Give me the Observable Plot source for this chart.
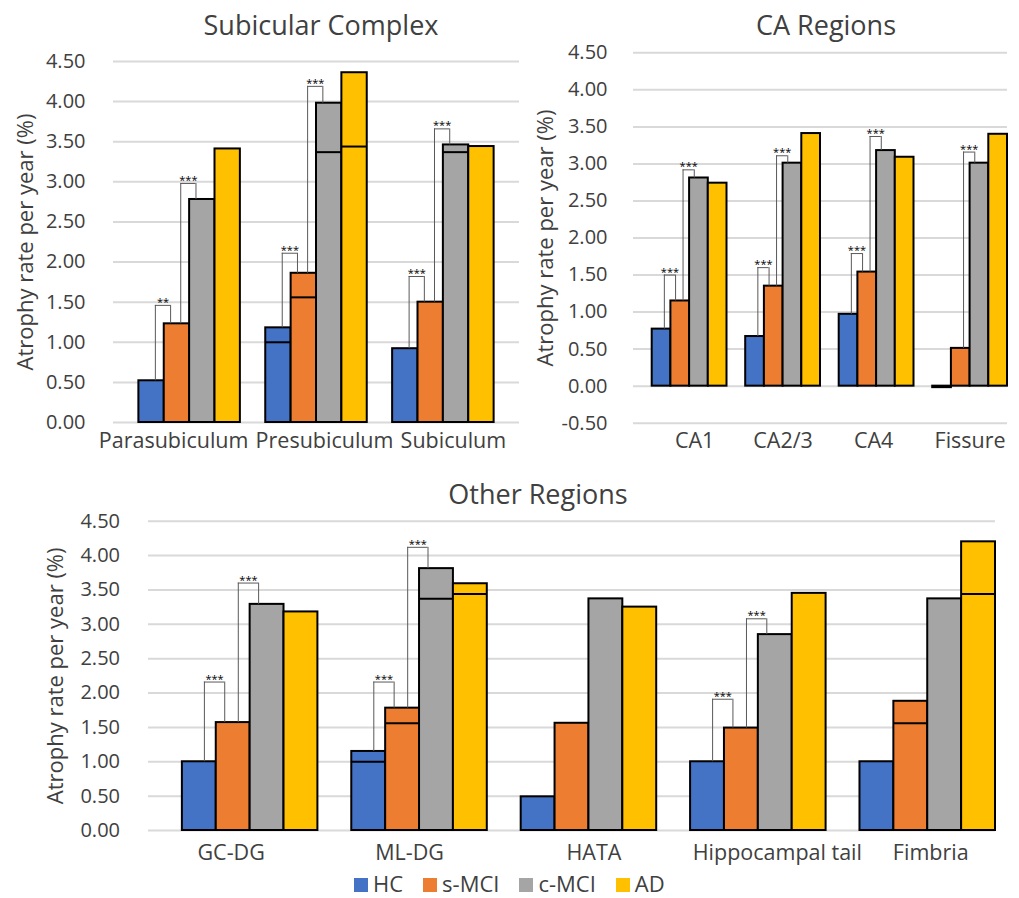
<!DOCTYPE html>
<html>
<head>
<meta charset="utf-8">
<script src="https://cdn.jsdelivr.net/npm/d3@7"></script>
<script src="https://cdn.jsdelivr.net/npm/@observablehq/plot@0.6"></script>
<style>
  body { margin: 0; background: #fff; font-family: "Open Sans", sans-serif; }
  #root { position: relative; width: 1019px; height: 898px; background: #fff; }
  .title { position: absolute; font-size: 27px; line-height: 27px; color: #404040; white-space: nowrap; transform: translateX(-50%); }
  .panel { position: absolute; }
  .legend { position: absolute; left: 354px; top: 874px; display: flex; gap: 20px; font-size: 22px; line-height: 18px; color: #404040; }
  .legend .item { display: flex; align-items: flex-start; }
  .legend .sw { width: 14px; height: 14px; margin-top: 4px; margin-right: 5px; }
</style>
</head>
<body>
<div id="root"></div>
<script>
// ---------- shared ----------
const groups = ["HC", "s-MCI", "c-MCI", "AD"];
const groupColors = ["#4472C4", "#ED7D31", "#A5A5A5", "#FFC000"];
const yTitle = "Atrophy rate per year (%)";

// ---------- Subicular Complex ----------
const subTitle = "Subicular Complex";
const subCategories = ["Parasubiculum", "Presubiculum", "Subiculum"];
const subHC   = [0.52, 1.18, 0.92];
const subSMCI = [1.23, 1.86, 1.50];
const subCMCI = [2.78, 3.98, 3.46];
const subAD   = [3.41, 4.36, 3.44];
const subInnerHC   = [null, 1.00, null];
const subInnerSMCI = [null, 1.56, null];
const subInnerCMCI = [null, 3.37, 3.37];
const subInnerAD   = [null, 3.44, null];
const subBrCat   = ["Parasubiculum", "Parasubiculum", "Presubiculum", "Presubiculum", "Subiculum", "Subiculum"];
const subBrFrom  = ["HC", "s-MCI", "HC", "s-MCI", "HC", "s-MCI"];
const subBrTop   = [1.46, 2.98, 2.11, 4.19, 1.82, 3.66];
const subBrLabel = ["**", "***", "***", "***", "***", "***"];
const subTicks = [0, 0.5, 1, 1.5, 2, 2.5, 3, 3.5, 4, 4.5];

// ---------- CA Regions ----------
const caTitle = "CA Regions";
const caCategories = ["CA1", "CA2/3", "CA4", "Fissure"];
const caHC   = [0.77, 0.67, 0.97, -0.02];
const caSMCI = [1.15, 1.35, 1.54, 0.51];
const caCMCI = [2.81, 3.01, 3.18, 3.01];
const caAD   = [2.74, 3.41, 3.09, 3.40];
const caInnerHC   = [null, null, null, null];
const caInnerSMCI = [null, null, null, null];
const caInnerCMCI = [null, null, null, null];
const caInnerAD   = [null, null, null, null];
const caBrCat   = ["CA1", "CA1", "CA2/3", "CA2/3", "CA4", "CA4", "Fissure"];
const caBrFrom  = ["HC", "s-MCI", "HC", "s-MCI", "HC", "s-MCI", "s-MCI"];
const caBrTop   = [1.50, 2.92, 1.60, 3.11, 1.79, 3.37, 3.16];
const caBrLabel = ["***", "***", "***", "***", "***", "***", "***"];
const caTicks = [-0.5, 0, 0.5, 1, 1.5, 2, 2.5, 3, 3.5, 4, 4.5];

// ---------- Other Regions ----------
const otherTitle = "Other Regions";
const otherCategories = ["GC-DG", "ML-DG", "HATA", "Hippocampal tail", "Fimbria"];
const otherHC   = [1.00, 1.15, 0.49, 1.00, 1.00];
const otherSMCI = [1.57, 1.78, 1.56, 1.49, 1.88];
const otherCMCI = [3.29, 3.81, 3.37, 2.85, 3.37];
const otherAD   = [3.18, 3.59, 3.25, 3.45, 4.20];
const otherInnerHC   = [null, 1.00, null, null, null];
const otherInnerSMCI = [null, 1.56, null, null, 1.56];
const otherInnerCMCI = [null, 3.37, null, null, null];
const otherInnerAD   = [null, 3.44, null, null, 3.44];
const otherBrCat   = ["GC-DG", "GC-DG", "ML-DG", "ML-DG", "Hippocampal tail", "Hippocampal tail"];
const otherBrFrom  = ["HC", "s-MCI", "HC", "s-MCI", "HC", "s-MCI"];
const otherBrTop   = [2.16, 3.60, 2.16, 4.12, 1.91, 3.08];
const otherBrLabel = ["***", "***", "***", "***", "***", "***"];
const otherTicks = [0, 0.5, 1, 1.5, 2, 2.5, 3, 3.5, 4, 4.5];

// ---------- builder ----------
function makePanel(cfg) {
  const {cats, values, inner, brCat, brFrom, brTop, brLabel, ticks, yDomain,
         width, height, mL, mR, mT, mB, trailingGap, tickPadding, titleDx, catDy, nudge} = cfg;
  const domain = [];
  cats.forEach((c, i) => { domain.push("gap" + i); groups.forEach(g => domain.push(c + "|" + g)); });
  if (trailingGap) domain.push("gapEnd");
  const bw = (width - mL - mR) / domain.length;
  const rows = cats.flatMap((c, i) => groups.map((g, j) => ({
    key: c + "|" + g, group: g, value: values[j][i], inner: inner[j][i]
  })));
  const val = new Map(rows.map(r => [r.key, r.value]));
  const nextGroup = g => groups[groups.indexOf(g) + 1];
  const br = brCat.map((c, i) => {
    const from = c + "|" + brFrom[i], to = c + "|" + nextGroup(brFrom[i]);
    return {from, to, fromVal: val.get(from), toVal: val.get(to), top: brTop[i], label: brLabel[i]};
  });
  const brStyle = {stroke: "#595959", strokeWidth: 1};
  return Plot.plot({
    width, height, marginLeft: mL, marginRight: mR, marginTop: mT, marginBottom: mB,
    style: {fontFamily: "'Open Sans', sans-serif", fontSize: "20px", color: "#404040", background: "transparent", overflow: "visible"},
    x: {type: "band", domain, paddingInner: 0, paddingOuter: 0, round: false, axis: null},
    y: {domain: yDomain, label: null},
    color: {domain: groups, range: groupColors},
    marks: [
      Plot.ruleY(ticks, {stroke: "#d9d9d9", strokeWidth: 2}),
      Plot.axisY(ticks, {tickFormat: d => d.toFixed(2), tickSize: 0, tickPadding: 0, dx: -tickPadding, fontSize: 20, fill: "#404040", label: null}),
      Plot.barY(rows, {x: "key", y: "value", fill: "group", stroke: "#000", strokeWidth: 2, inset: 0}),
      Plot.tickY(rows.filter(r => r.inner != null), {x: "key", y: "inner", stroke: "#000", strokeWidth: 2}),
      Plot.ruleX(br, {x: "from", y1: "fromVal", y2: "top", dx: 0.15 * bw, ...brStyle}),
      Plot.ruleX(br, {x: "to", y1: "toVal", y2: "top", dx: -0.25 * bw, ...brStyle}),
      Plot.ruleY(br, {x1: "from", x2: "to", y: "top", insetLeft: 0.65 * bw, insetRight: 0.75 * bw, ...brStyle}),
      Plot.text(br, {x: "from", y: "top", text: "label", dx: 0.45 * bw, dy: -3, fontSize: 11, lineAnchor: "middle", fill: "#000"}),
      Plot.text([yTitle], {frameAnchor: "left", textAnchor: "middle", lineAnchor: "middle", rotate: -90, dx: titleDx, fontSize: 22, fill: "#404040"}),
      ...cats.map((c, i) => Plot.text([c], {x: () => c + "|s-MCI", frameAnchor: "bottom", dx: bw / 2 + nudge[i], dy: catDy, fontSize: 21.5, lineAnchor: "middle", fill: "#404040"}))
    ]
  });
}

const root = document.getElementById("root");
function place(el, left, top) {
  el.classList.add("panel");
  el.style.left = left + "px";
  el.style.top = top + "px";
  root.appendChild(el);
}
function title(text, cx, top) {
  const d = document.createElement("div");
  d.className = "title";
  d.textContent = text;
  d.style.left = cx + "px";
  d.style.top = top + "px";
  root.appendChild(d);
}

place(makePanel({
  cats: subCategories, values: [subHC, subSMCI, subCMCI, subAD],
  inner: [subInnerHC, subInnerSMCI, subInnerCMCI, subInnerAD],
  brCat: subBrCat, brFrom: subBrFrom, brTop: subBrTop, brLabel: subBrLabel,
  ticks: subTicks, yDomain: [0, 4.5],
  width: 520, height: 460, mL: 113, mR: 1, mT: 61, mB: 38, trailingGap: true,
  tickPadding: 28, titleDx: -88, catDy: 19, nudge: [-16, 8, 10]
}), 0, 0);

place(makePanel({
  cats: caCategories, values: [caHC, caSMCI, caCMCI, caAD],
  inner: [caInnerHC, caInnerSMCI, caInnerCMCI, caInnerAD],
  brCat: caBrCat, brFrom: caBrFrom, brTop: caBrTop, brLabel: caBrLabel,
  ticks: caTicks, yDomain: [-0.5, 4.5],
  width: 509, height: 460, mL: 123, mR: 12, mT: 52.3, mB: 37.3, trailingGap: false,
  tickPadding: 26, titleDx: -88, catDy: 18, nudge: [5, 0, -3, 0]
}), 510, 0);

place(makePanel({
  cats: otherCategories, values: [otherHC, otherSMCI, otherCMCI, otherAD],
  inner: [otherInnerHC, otherInnerSMCI, otherInnerCMCI, otherInnerAD],
  brCat: otherBrCat, brFrom: otherBrFrom, brTop: otherBrTop, brLabel: otherBrLabel,
  ticks: otherTicks, yDomain: [0, 4.5],
  width: 1019, height: 410, mL: 148, mR: 24, mT: 60.7, mB: 40, trailingGap: false,
  tickPadding: 28.5, titleDx: -93, catDy: 22.5, nudge: [-19, -10, 5, 19, 3]
}), 0, 460);

title(subTitle, 321, 11);
title(caTitle, 826, 11);
title(otherTitle, 538, 480);

const legend = document.createElement("div");
legend.className = "legend";
groups.forEach((g, i) => {
  const item = document.createElement("div");
  item.className = "item";
  const sw = document.createElement("span");
  sw.className = "sw";
  sw.style.background = groupColors[i];
  const tx = document.createElement("span");
  tx.textContent = g;
  item.appendChild(sw);
  item.appendChild(tx);
  legend.appendChild(item);
});
root.appendChild(legend);
</script>
</body>
</html>
